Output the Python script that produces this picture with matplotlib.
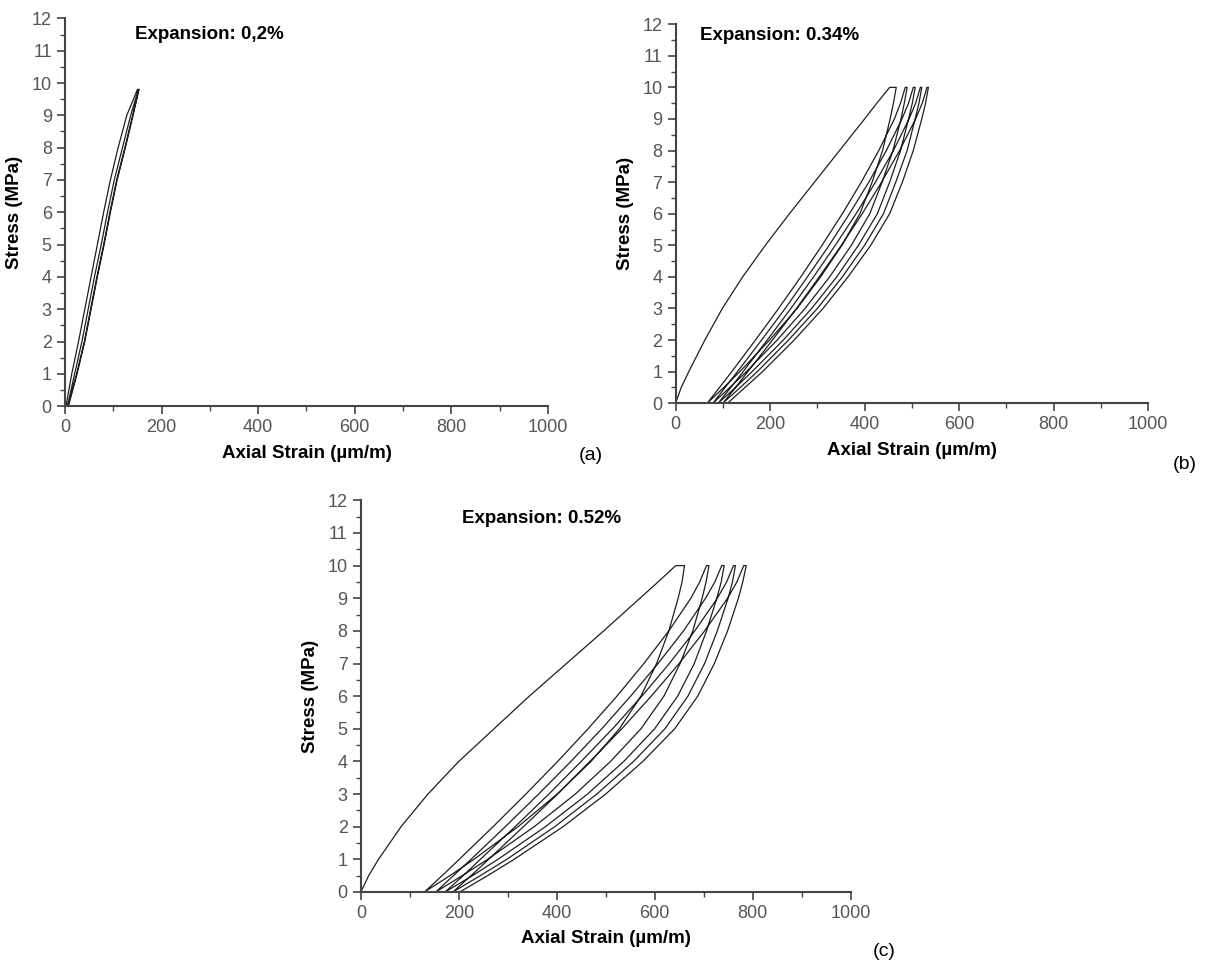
import matplotlib
matplotlib.use('Agg')
import matplotlib.pyplot as plt
from matplotlib.ticker import MultipleLocator

plt.rcParams['font.family'] = ['Liberation Sans', 'DejaVu Sans']

stress_a = [0, 1, 2, 3, 4, 5, 6, 7, 8, 9, 9.8]
stress = [0, 0.5, 1, 2, 3, 4, 5, 6, 7, 8, 9, 9.5, 10]

# (a) expansion 0.2 % - loops almost on top of each other
a_load1 = [2, 14, 28, 41, 54, 67, 80, 94, 110, 128, 150]
a_unload1 = [6, 24, 40, 53, 66, 80, 93, 107, 124, 140, 153]
a_load2 = [5, 20, 35, 48, 61, 75, 88, 102, 119, 136, 152]
a_unload2 = [7, 25, 41, 54, 67, 81, 94, 108, 125, 141, 153]

# (b) expansion 0.34 %
b_load1 = [0, 12, 28, 62, 99, 142, 190, 241, 294, 347, 400, 426, 453]
b_unload1 = [67, 102, 136, 199, 257, 307, 352, 390, 416, 438, 454, 461, 467]
b_load2 = [67, 93, 119, 169, 218, 265, 310, 353, 393, 430, 463, 476, 486]
b_unload2 = [79, 115, 150, 215, 274, 326, 372, 411, 437, 460, 477, 484, 490]
b_load3 = [79, 105, 131, 182, 232, 279, 325, 368, 409, 446, 479, 493, 503]
b_unload3 = [90, 127, 162, 228, 288, 341, 387, 427, 453, 476, 493, 501, 507]
b_load4 = [90, 117, 143, 194, 244, 292, 338, 382, 423, 461, 494, 508, 518]
b_unload4 = [100, 137, 173, 239, 300, 353, 400, 440, 466, 490, 507, 515, 521]
b_load5 = [100, 127, 153, 205, 256, 304, 351, 395, 436, 474, 508, 522, 532]
b_unload5 = [110, 147, 184, 251, 312, 365, 413, 453, 480, 503, 521, 529, 535]

# (c) expansion 0.52 %
c_load1 = [0, 16, 36, 82, 137, 200, 272, 344, 420, 496, 570, 607, 643]
c_unload1 = [130, 182, 231, 321, 401, 470, 528, 572, 604, 629, 648, 656, 661]
c_load2 = [130, 166, 201, 270, 337, 402, 464, 523, 578, 629, 674, 692, 706]
c_unload2 = [153, 207, 259, 354, 438, 510, 572, 619, 652, 678, 697, 705, 711]
c_load3 = [153, 189, 225, 295, 363, 429, 492, 551, 607, 659, 704, 723, 737]
c_unload3 = [172, 228, 280, 377, 463, 537, 600, 647, 681, 706, 727, 736, 742]
c_load4 = [172, 209, 244, 315, 384, 450, 514, 574, 630, 682, 728, 747, 761]
c_unload4 = [188, 244, 298, 396, 482, 557, 621, 668, 702, 728, 750, 759, 765]
c_load5 = [188, 225, 261, 332, 402, 468, 533, 593, 650, 702, 749, 768, 782]
c_unload5 = [202, 259, 313, 413, 500, 576, 641, 688, 722, 749, 771, 780, 787]

panels = [
    ('Expansion: 0,2%', stress_a, [a_load1, a_unload1, a_load2, a_unload2], '(a)'),
    ('Expansion: 0.34%', stress, [b_load1, b_unload1, b_load2, b_unload2, b_load3,
                                  b_unload3, b_load4, b_unload4, b_load5, b_unload5], '(b)'),
    ('Expansion: 0.52%', stress, [c_load1, c_unload1, c_load2, c_unload2, c_load3,
                                  c_unload3, c_load4, c_unload4, c_load5, c_unload5], '(c)'),
]

boxes = [[0.0535, 0.580, 0.3975, 0.401],
         [0.556, 0.583, 0.389, 0.392],
         [0.297, 0.0776, 0.403, 0.405]]
title_pos = [(145, 11.5), (51, 11.65), (207, 11.45)]
tag_pos = [(0.486, 0.529), (0.975, 0.520), (0.728, 0.016)]

fig = plt.figure(figsize=(12.15, 9.67), dpi=100)

for (title, s, branches, tag), box, tp, gp in zip(panels, boxes, title_pos, tag_pos):
    ax = fig.add_axes(box)
    # join the branches into one test path: up, down, up, down ...
    xs, ys = [], []
    for i, br in enumerate(branches):
        if i % 2 == 0:
            xs += br
            ys += s
        else:
            xs += br[::-1]
            ys += s[::-1]
    ax.plot(xs, ys, color='#1e1e1e', lw=0.9)

    ax.set_xlim(0, 1000)
    ax.set_ylim(0, 12)
    ax.xaxis.set_major_locator(MultipleLocator(200))
    ax.xaxis.set_minor_locator(MultipleLocator(100))
    ax.yaxis.set_major_locator(MultipleLocator(1))
    ax.yaxis.set_minor_locator(MultipleLocator(0.5))
    for side in ['top', 'right']:
        ax.spines[side].set_visible(False)
    for side in ['left', 'bottom']:
        ax.spines[side].set_color('#444444')
        ax.spines[side].set_linewidth(1.5)
    ax.tick_params(which='major', direction='out', length=6, width=1.2,
                   color='#444444', labelcolor='#555555', labelsize=13)
    ax.tick_params(which='minor', direction='out', length=3.5, width=1.0,
                   color='#444444')
    ax.set_xlabel('Axial Strain (µm/m)', fontsize=13.5, fontweight='bold', labelpad=6)
    ax.set_ylabel('Stress (MPa)', fontsize=13.5, fontweight='bold', labelpad=6)
    ax.text(tp[0], tp[1], title, fontsize=13.5, fontweight='bold', va='center')
    fig.text(gp[0], gp[1], tag, fontsize=14, ha='center', va='center')

plt.savefig('out.png', dpi=100)
